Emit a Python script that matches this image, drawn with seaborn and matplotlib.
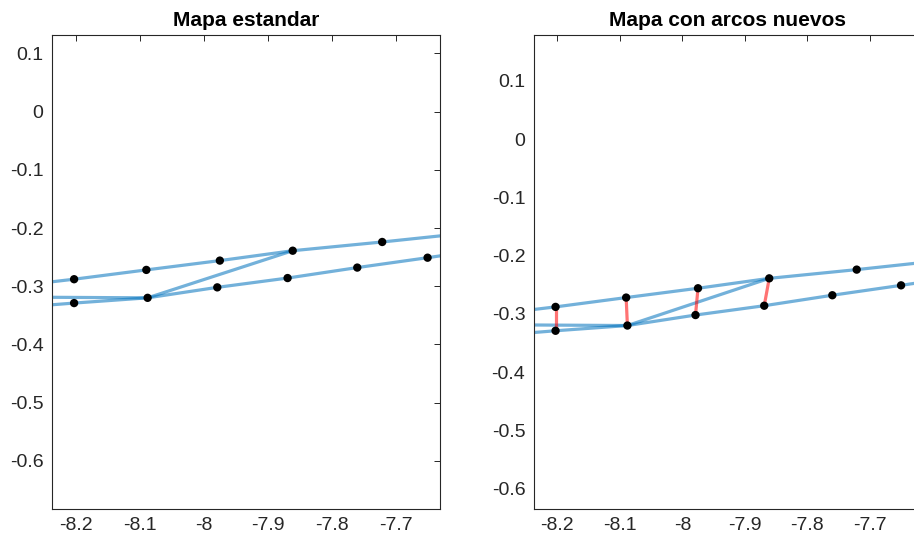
import numpy as np
import pandas as pd
import matplotlib
matplotlib.use("Agg")
import matplotlib.pyplot as plt
from matplotlib.ticker import FuncFormatter
import seaborn as sns

# nodos del mapa (x, y)
nodo_x = [-8.203, -8.203, -8.090, -8.088, -7.975, -7.979, -7.861, -7.869, -7.721, -7.760, -7.650]
nodo_y = [-0.288, -0.329, -0.272, -0.320, -0.256, -0.302, -0.239, -0.286, -0.224, -0.268, -0.251]

# arcos del mapa estandar (polilineas)
arco_sup_x = [-8.25, -8.203, -8.090, -7.975, -7.861, -7.721, -7.60]
arco_sup_y = [-0.294, -0.288, -0.272, -0.256, -0.239, -0.224, -0.210]
arco_inf_x = [-8.25, -8.203, -8.088, -7.979, -7.869, -7.760, -7.650, -7.60]
arco_inf_y = [-0.333, -0.329, -0.320, -0.302, -0.286, -0.268, -0.251, -0.243]
arco_diag_x = [-8.25, -8.088, -7.861]
arco_diag_y = [-0.319, -0.320, -0.239]

# arcos nuevos (pares de nodos)
nuevos = [(0, 1), (2, 3), (4, 5), (6, 7)]

lineas = pd.concat([
    pd.DataFrame({"x": arco_sup_x, "y": arco_sup_y, "tramo": "sup"}),
    pd.DataFrame({"x": arco_inf_x, "y": arco_inf_y, "tramo": "inf"}),
    pd.DataFrame({"x": arco_diag_x, "y": arco_diag_y, "tramo": "diag"}),
], ignore_index=True)
nodos = pd.DataFrame({"x": nodo_x, "y": nodo_y})
rojos = pd.DataFrame([
    {"x": nodo_x[k], "y": nodo_y[k], "tramo": i}
    for i, par in enumerate(nuevos) for k in par
])

sns.set_style("white")
plt.rcParams["font.family"] = ["Liberation Sans", "DejaVu Sans"]
plt.rcParams["axes.unicode_minus"] = False

fig = plt.figure(figsize=(9.14, 5.4), dpi=100)
ax1 = fig.add_axes([0.0566, 0.0574, 0.4245, 0.878])
ax2 = fig.add_axes([0.5839, 0.0574, 0.4245, 0.878])

azul = "#0072BD"


def etiqueta(v, p):
    v = round(v, 2)
    if abs(v) < 1e-9:
        v = 0.0
    return "%g" % v


fmt = FuncFormatter(etiqueta)

for ax, titulo, ylim in [(ax1, "Mapa estandar", (-0.683, 0.132)),
                         (ax2, "Mapa con arcos nuevos", (-0.635, 0.179))]:
    sns.lineplot(data=lineas, x="x", y="y", units="tramo", estimator=None, sort=False,
                 color=azul, alpha=0.55, linewidth=2.3, ax=ax)
    if ax is ax2:
        sns.lineplot(data=rojos, x="x", y="y", units="tramo", estimator=None, sort=False,
                     color="red", alpha=0.55, linewidth=2.3, ax=ax)
    sns.scatterplot(data=nodos, x="x", y="y", color="black", s=36, edgecolor="none",
                    zorder=5, ax=ax)
    ax.set_xlim(-8.238, -7.631 if ax is ax1 else -7.617)
    ax.set_ylim(*ylim)
    ax.set_xticks([-8.2, -8.1, -8.0, -7.9, -7.8, -7.7])
    ax.set_yticks(np.round(np.arange(-0.6, 0.11, 0.1), 1))
    ax.xaxis.set_major_formatter(fmt)
    ax.yaxis.set_major_formatter(fmt)
    ax.set_xlabel("")
    ax.set_ylabel("")
    ax.set_title(titulo, fontsize=15, fontweight="bold", pad=6.5, color="black")
    ax.tick_params(direction="in", length=4, width=0.7, colors="#262626",
                   labelsize=14, top=True, right=True, pad=6)
    for s in ax.spines.values():
        s.set_color("#262626")
        s.set_linewidth(0.8)

fig.savefig("out.png", dpi=100)
